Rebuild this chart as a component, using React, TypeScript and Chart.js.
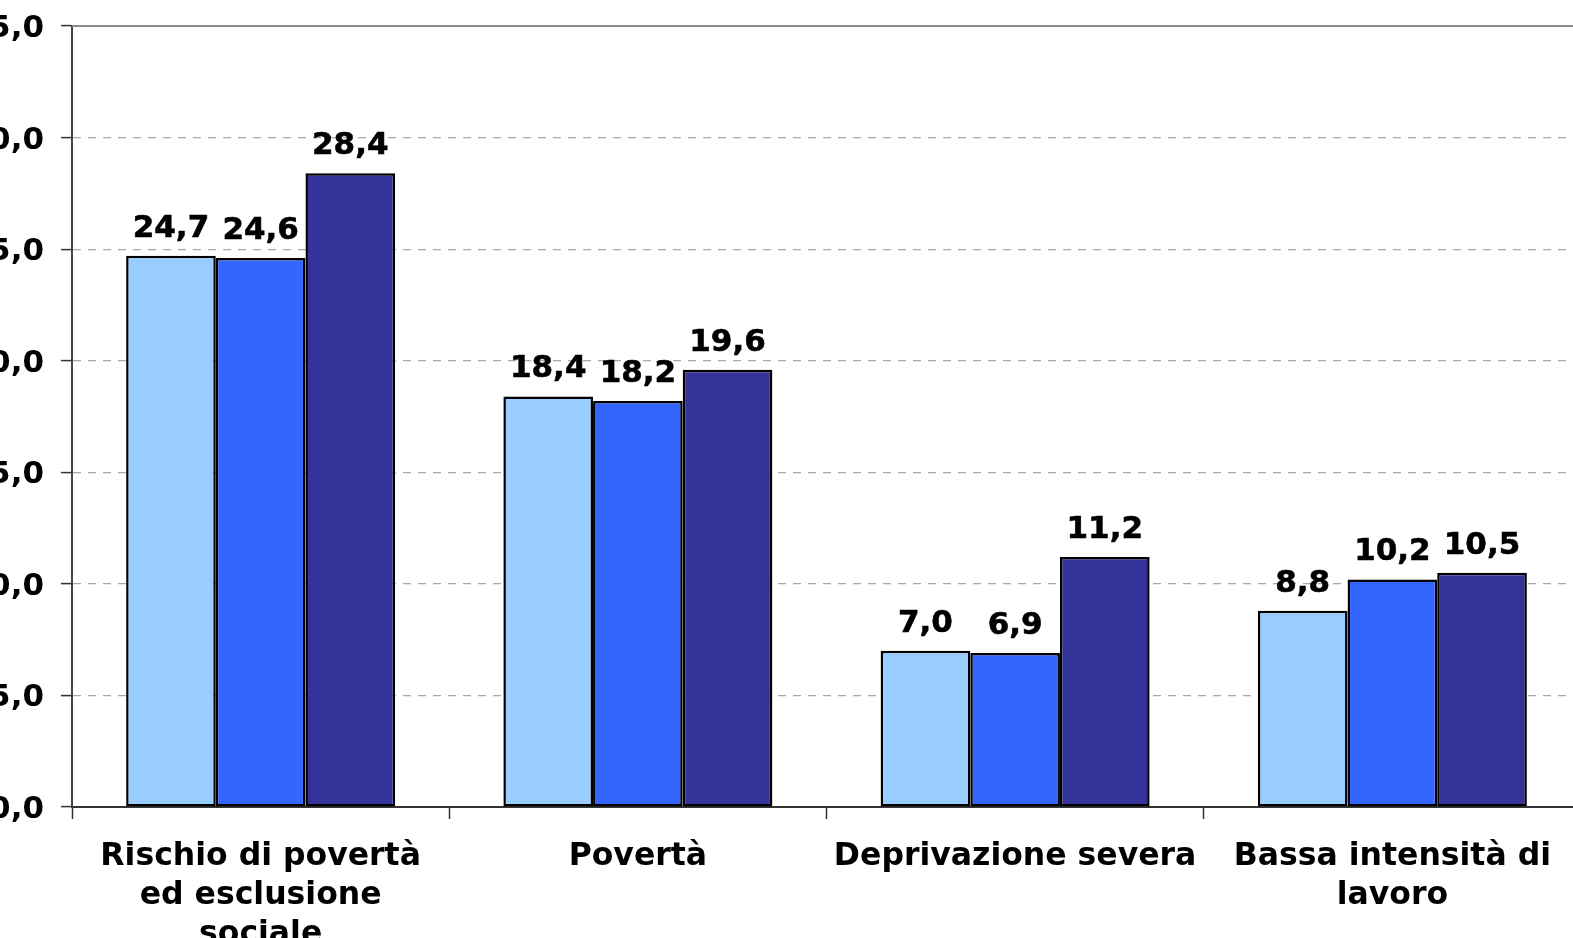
import React, { useEffect, useRef } from "react";
import { Chart, registerables } from "chart.js";

Chart.register(...registerables);

const categories: string[][] = [
  ["Rischio di povertà", "ed esclusione", "sociale"],
  ["Povertà"],
  ["Deprivazione severa"],
  ["Bassa intensità di", "lavoro"],
];
const seriesNames = ["Serie 1", "Serie 2", "Serie 3"];
const series1 = [24.7, 18.4, 7.0, 8.8];
const series2 = [24.6, 18.2, 6.9, 10.2];
const series3 = [28.4, 19.6, 11.2, 10.5];
const yMin = 0;
const yMax = 35;
const yStep = 5;

const FONT = "'DejaVu Sans', Verdana, sans-serif";
const fmt = (v: number) => v.toFixed(1).replace(".", ",");

const valueLabels = {
  id: "valueLabels",
  afterDatasetsDraw(chart: any) {
    const ctx = chart.ctx;
    ctx.save();
    ctx.font = `bold 31px ${FONT}`;
    ctx.fillStyle = "#000";
    ctx.strokeStyle = "#000";
    ctx.lineWidth = 0.6;
    ctx.textAlign = "center";
    ctx.textBaseline = "alphabetic";
    chart.data.datasets.forEach((ds: any, di: number) => {
      const meta = chart.getDatasetMeta(di);
      meta.data.forEach((el: any, i: number) => {
        ctx.fillText(fmt(ds.data[i]), el.x, el.y - 19);
        ctx.strokeText(fmt(ds.data[i]), el.x, el.y - 19);
      });
    });
    ctx.restore();
  },
};

const plotBorder = {
  id: "plotBorder",
  afterDraw(chart: any) {
    const { ctx, chartArea } = chart;
    ctx.save();
    ctx.strokeStyle = "#8a8a8a";
    ctx.lineWidth = 2;
    ctx.beginPath();
    ctx.moveTo(chartArea.left, chartArea.top);
    ctx.lineTo(chartArea.right, chartArea.top);
    ctx.lineTo(chartArea.right, chartArea.bottom);
    ctx.stroke();
    ctx.restore();
  },
};

export default function App() {
  const ref = useRef<HTMLCanvasElement>(null);
  useEffect(() => {
    if (!ref.current) return;
    const chart = new Chart(ref.current, {
      type: "bar",
      data: {
        labels: categories,
        datasets: [
          { label: seriesNames[0], data: series1, backgroundColor: "#99CCFF" },
          { label: seriesNames[1], data: series2, backgroundColor: "#3366FF" },
          { label: seriesNames[2], data: series3, backgroundColor: "#333399" },
        ].map((d) => ({
          ...d,
          borderColor: "#000",
          borderWidth: 2.5,
          borderSkipped: false,
          categoryPercentage: 0.713,
          barPercentage: 1,
        })),
      },
      options: {
        responsive: false,
        animation: false,
        devicePixelRatio: 1,
        layout: { padding: { top: 26, right: 24, bottom: 0, left: 0 } },
        plugins: { legend: { display: false }, tooltip: { enabled: false } },
        scales: {
          x: {
            offset: true,
            grid: {
              display: true,
              drawOnChartArea: false,
              drawTicks: true,
              tickLength: 12,
              tickColor: "#333",
              tickWidth: 1.5,
              offset: true,
            },
            border: { color: "#333", width: 2 },
            ticks: {
              autoSkip: false,
              maxRotation: 0,
              minRotation: 0,
              padding: 18,
              color: "#000",
              font: { family: FONT, size: 31.5, weight: "bold", lineHeight: 1.24 },
            },
            afterFit(scale: any) {
              scale.height = 153;
              scale.paddingLeft = 0;
              scale.paddingRight = 0;
            },
          },
          y: {
            min: yMin,
            max: yMax,
            grid: {
              color: "#a8a8a8",
              lineWidth: 1.2,
              drawTicks: true,
              tickLength: 11,
              tickColor: "#333",
              tickWidth: 1.5,
            },
            border: { color: "#444", width: 2, dash: [8, 7] },
            ticks: {
              stepSize: yStep,
              padding: 17,
              labelOffset: 3,
              color: "#000",
              font: { family: FONT, size: 31, weight: "bold" },
              callback: (v: any) => fmt(Number(v)),
            },
            afterFit(scale: any) {
              scale.width = 112;
              scale.paddingTop = 0;
              scale.paddingBottom = 0;
            },
          },
        },
      },
      plugins: [valueLabels, plotBorder],
    });
    return () => chart.destroy();
  }, []);
  return (
    <div
      style={{
        position: "fixed",
        left: 0,
        top: 0,
        width: 1573,
        height: 938,
        overflow: "hidden",
        background: "#fff",
      }}
    >
      <canvas
        ref={ref}
        width={1645}
        height={960}
        style={{ position: "absolute", left: -40, top: 0, width: 1645, height: 960 }}
      />
    </div>
  );
}
